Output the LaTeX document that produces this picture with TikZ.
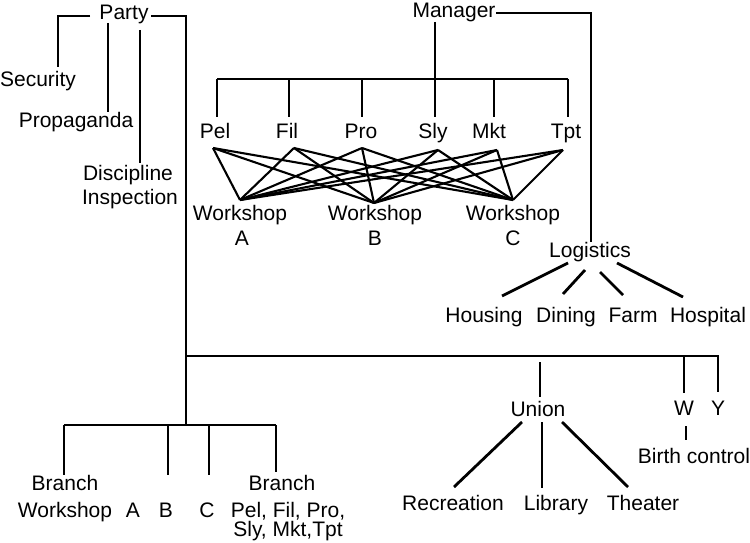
\documentclass[tikz,border=0pt]{standalone}
\usepackage{fontspec}
\setmainfont{Liberation Sans}
\begin{document}
\begin{tikzpicture}[x=1pt,y=-1pt,
  lbl/.style={font=\fontsize{21}{24}\selectfont, inner sep=0pt, anchor=base},
  ln/.style={line width=2.8pt},
  crs/.style={line width=2.1pt, line join=round}]
\useasboundingbox (0,0) rectangle (750,543);
% ---------------- labels ----------------
\node[lbl] (party) at (124,20) {Party};
\node[lbl] (security) at (38,86) {Security};
\node[lbl] (propaganda) at (76,128) {Propaganda};
\node[lbl] (discipline) at (128,180) {Discipline};
\node[lbl] (inspection) at (130,204) {Inspection};
\node[lbl] (manager) at (454,18) {Manager};
\node[lbl] (pel) at (215,138) {Pel};
\node[lbl] (fil) at (287,138) {Fil};
\node[lbl] (pro) at (361,138) {Pro};
\node[lbl] (sly) at (433,138) {Sly};
\node[lbl] (mkt) at (489,138) {Mkt};
\node[lbl] (tpt) at (566,138) {Tpt};
\node[lbl] (wsA) at (240,220) {Workshop};
\node[lbl] (wA) at (242,245) {A};
\node[lbl] (wsB) at (375,220) {Workshop};
\node[lbl] (wB) at (375,245) {B};
\node[lbl] (wsC) at (513,220) {Workshop};
\node[lbl] (wC) at (513,245) {C};
\node[lbl] (logistics) at (590,257) {Logistics};
\node[lbl] (housing) at (484,322) {Housing};
\node[lbl] (dining) at (566,322) {Dining};
\node[lbl] (farm) at (633,322) {Farm};
\node[lbl] (hospital) at (708,322) {Hospital};
\node[lbl] (union) at (538,416) {Union};
\node[lbl] (w) at (684,415) {W};
\node[lbl] (y) at (718,415) {Y};
\node[lbl] (birth) at (694,463) {Birth control};
\node[lbl] (recreation) at (453,510) {Recreation};
\node[lbl] (library) at (556,510) {Library};
\node[lbl] (theater) at (643,510) {Theater};
\node[lbl] (brW) at (65,490) {Branch};
\node[lbl] (brWs) at (65,517) {Workshop};
\node[lbl] (brA) at (133,517) {A};
\node[lbl] (brB) at (166,517) {B};
\node[lbl] (brC) at (207,517) {C};
\node[lbl] (brD) at (282,490) {Branch};
\node[lbl] (brD1) at (288,517) {Pel, Fil, Pro,};
\node[lbl] (brD2) at (288,536) {Sly, Mkt,Tpt};
% ---------------- coordinates ----------------
\coordinate (pL) at (90,16);  \coordinate (pLc) at (58,16);  \coordinate (secT) at (58,67);
\coordinate (proT) at (108,23); \coordinate (proB) at (108,112);
\coordinate (disT) at (140,30); \coordinate (disB) at (140,163);
\coordinate (pR) at (151,16); \coordinate (pRc) at (186,16);
\coordinate (tr1) at (186,356); \coordinate (tr2) at (186,425);
\coordinate (hE) at (718,356); \coordinate (yT) at (718,392);
\coordinate (wJ) at (684,356); \coordinate (wT) at (684,393);
\coordinate (wB1) at (686,426); \coordinate (wB2) at (686,440);
\coordinate (uT) at (540,362); \coordinate (uB) at (540,397);
\coordinate (bL) at (64,425); \coordinate (bR) at (276,425);
\coordinate (mR) at (496,13); \coordinate (mRc) at (591,13); \coordinate (logT) at (591,242);
\coordinate (mS) at (435,22); \coordinate (mJ) at (435,79);
\coordinate (barL) at (217,79); \coordinate (barR) at (568,79);
% cross-link end points
\coordinate (xPel) at (213,148); \coordinate (xFil) at (294,148);
\coordinate (xPro) at (362,148); \coordinate (xSly) at (438,150);
\coordinate (xMkt) at (497,150); \coordinate (xTpt) at (563,150);
\coordinate (xA) at (240,200); \coordinate (xB) at (374,203); \coordinate (xC) at (513,200);
% ---------------- connectors ----------------
% Party
\draw[ln] (pL) -- (pLc) -- (secT);
\draw[ln] (proT) -- (proB);
\draw[ln] (disT) -- (disB);
\draw[ln] (pR) -- (pRc) -- (tr2);
\draw[ln] (tr1) -- (hE) -- (yT);
\draw[ln] (wJ) -- (wT);
\draw[ln] (wB1) -- (wB2);
\draw[ln] (uT) -- (uB);
\draw[ln] (522,422) -- (454,487);
\draw[ln] (542,422) -- (542,488);
\draw[ln] (562,422) -- (628,487);
% branches
\draw[ln] (bL) -- (bR);
\draw[ln] (bL) -- (64,475);
\draw[ln] (168,425) -- (168,475);
\draw[ln] (209,425) -- (209,475);
\draw[ln] (bR) -- (276,472);
% Manager
\draw[ln] (mR) -- (mRc) -- (logT);
\draw[ln] (mS) -- (mJ);
\draw[ln] (barL) -- (barR);
\foreach \xx in {217,289,362,435,494,568} \draw[ln] (\xx,79) -- (\xx,117);
% Logistics
\draw[ln] (568,263) -- (502,296);
\draw[ln] (585,270) -- (563,294);
\draw[ln] (600,272) -- (623,295);
\draw[ln] (617,263) -- (683,297);
% dense cross links: every department to every workshop
\foreach \d in {xPel,xFil,xPro,xSly,xMkt,xTpt}
  \foreach \w in {xA,xB,xC}
    \draw[crs] (\d) -- (\w);
\end{tikzpicture}
\end{document}
